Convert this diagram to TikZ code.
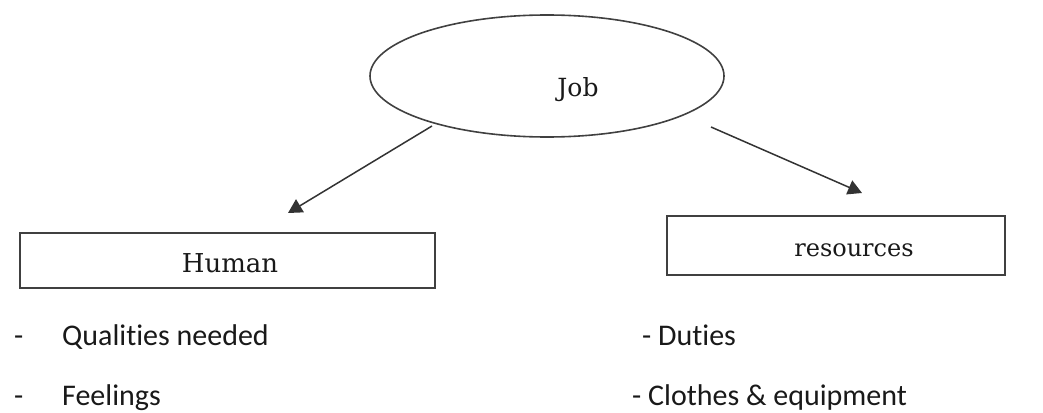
\documentclass[tikz,border=0pt]{standalone}
\usepackage{fontspec}
\setmainfont{DejaVu Serif}
\newfontfamily\listfont[Ligatures=NoCommon]{Carlito}
\usetikzlibrary{arrows.meta,shapes.geometric}
\tikzset{
  x=1pt,y=-1pt,
  boxnode/.style={draw=black!75,line width=2pt,inner sep=0pt},
  label/.style={anchor=base,inner sep=0pt,text=black!90},
  arrowline/.style={draw=black!80,line width=1.5pt,-{Triangle[length=14pt,width=15pt]}},
  item/.style={anchor=base west,inner sep=0pt,font=\listfont\fontsize{30}{34}\selectfont,text=black!90},
}
\begin{document}
\begin{tikzpicture}
\useasboundingbox (0,0) rectangle (1043,412);
\node[ellipse,draw=black!75,line width=1.6pt,minimum width=354pt,minimum height=122pt,inner sep=0pt] (job) at (547,76) {};
\node[label,font=\fontsize{25}{28}\selectfont] (jobt) at (578,96) {Job};
\node[boxnode,minimum width=415pt,minimum height=55pt] (human) at (227.5,260.5) {};
\node[label,font=\fontsize{26}{30}\selectfont] (humant) at (230,272) {Human};
\node[boxnode,minimum width=338pt,minimum height=59pt] (res) at (836,245.5) {};
\node[label,font=\fontsize{24}{28}\selectfont] (rest) at (854,256) {resources};
\coordinate (l0) at (432,126);
\coordinate (l1) at (288,213);
\coordinate (r0) at (711,127);
\coordinate (r1) at (862,193);
\draw[arrowline] (l0) -- (l1);
\draw[arrowline] (r0) -- (r1);
\node[item] (d1) at (14,345) {-};
\node[item] (q) at (62,345) {Qualities needed};
\node[item] (d2) at (14,405) {-};
\node[item] (f) at (62,405) {Feelings};
\node[item] (du) at (642,345) {- Duties};
\node[item] (cl) at (632,405) {- Clothes \& equipment};
\end{tikzpicture}
\end{document}
